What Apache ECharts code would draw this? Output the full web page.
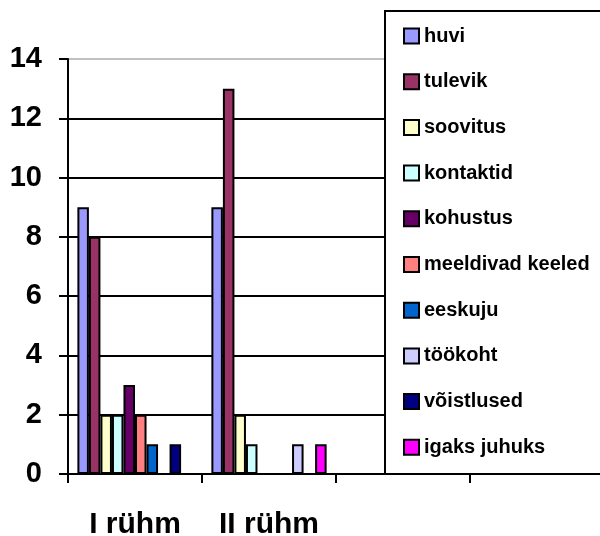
<!DOCTYPE html>
<html>
<head>
<meta charset="utf-8">
<script src="https://cdn.jsdelivr.net/npm/echarts@6/dist/echarts.min.js"></script>
<style>html,body{margin:0;padding:0;background:#fff;}#c{width:600px;height:536px;}</style>
</head>
<body>
<div id="c"></div>
<script>
var categories = ['I rühm', 'II rühm', '', ''];
var seriesNames = ['huvi', 'tulevik', 'soovitus', 'kontaktid', 'kohustus', 'meeldivad keeled', 'eeskuju', 'töökoht', 'võistlused', 'igaks juhuks'];
var groupI  = [9, 8, 2, 2, 3, 2, 1, 0, 1, 0];
var groupII = [9, 13, 2, 1, 0, 0, 0, 1, 0, 1];
var seriesColors = ['#9999FF', '#993366', '#FFFFCC', '#CCFFFF', '#660066', '#FF8080', '#0066CC', '#CCCCFF', '#000080', '#FF00FF'];
var yTicks = [0, 2, 4, 6, 8, 10, 12, 14];

var FONT = 'Liberation Sans, Arial, sans-serif';
var chart = echarts.init(document.getElementById('c'), null, {renderer: 'canvas'});

var series = seriesNames.map(function (name, i) {
  return {
    name: name,
    type: 'bar',
    barGap: '0%',
    barCategoryGap: '14%',
    data: [groupI[i], groupII[i], null, null],
    itemStyle: {color: seriesColors[i], borderColor: '#000', borderWidth: 2},
    emphasis: {disabled: true},
    animation: false
  };
});

var gridColors = yTicks.map(function (v, i) { return i === yTicks.length - 1 ? '#c0c0c0' : '#000'; });

chart.setOption({
  animation: false,
  backgroundColor: '#fff',
  grid: {left: 68, top: 59, width: 536, height: 415, containLabel: false, outerBoundsMode: 'none'},
  xAxis: {
    type: 'category',
    data: categories,
    boundaryGap: true,
    axisLine: {lineStyle: {color: '#000', width: 2}},
    axisTick: {show: true, length: 9, lineStyle: {color: '#000', width: 2}},
    axisLabel: {color: '#000', fontSize: 30, fontWeight: 'bold', fontFamily: FONT, margin: 36, interval: 0},
    splitLine: {show: false}
  },
  yAxis: {
    type: 'value',
    min: yTicks[0],
    max: yTicks[yTicks.length - 1],
    interval: 2,
    axisLine: {show: true, lineStyle: {color: '#000', width: 2}},
    axisTick: {show: true, length: 9, lineStyle: {color: '#000', width: 2}},
    axisLabel: {color: '#000', fontSize: 29, fontWeight: 'bold', fontFamily: FONT, margin: 26},
    splitLine: {show: true, lineStyle: {color: gridColors, width: 2}}
  },
  graphic: [{
    type: 'rect',
    z: 50,
    shape: {x: 385, y: 11, width: 240, height: 463},
    style: {fill: '#fff', stroke: '#000', lineWidth: 2},
    silent: true
  }],
  legend: {
    z: 60,
    orient: 'vertical',
    left: 398,
    top: 21,
    itemWidth: 15,
    itemHeight: 15,
    itemGap: 25.7,
    icon: 'rect',
    selectedMode: false,
    itemStyle: {borderColor: '#000', borderWidth: 2},
    textStyle: {color: '#000', fontSize: 20, fontWeight: 'bold', fontFamily: FONT},
    data: seriesNames
  },
  series: series
});
</script>
</body>
</html>
